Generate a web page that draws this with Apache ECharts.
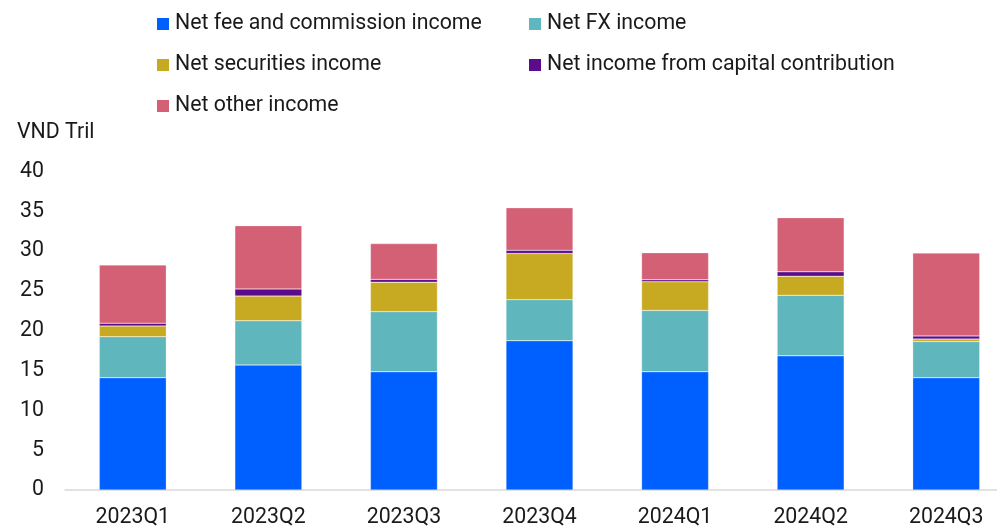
<!DOCTYPE html>
<html>
<head>
<meta charset="utf-8">
<script src="https://cdn.jsdelivr.net/npm/echarts@6/dist/echarts.min.js"></script>
<style>
  html, body { margin: 0; padding: 0; background: #fff; }
  #chart { width: 997px; height: 527px; }
</style>
</head>
<body>
<div id="chart"></div>
<script>
// Quarterly non-interest income breakdown, VND trillion
const quarters = ['2023Q1', '2023Q2', '2023Q3', '2023Q4', '2024Q1', '2024Q2', '2024Q3'];
const feeIncome = [14.1, 15.7, 14.85, 18.75, 14.85, 16.85, 14.1];
const fxIncome = [5.15, 5.55, 7.55, 5.15, 7.7, 7.6, 4.55];
const securitiesIncome = [1.35, 3.1, 3.7, 5.8, 3.6, 2.4, 0.3];
const capitalContribIncome = [0.35, 0.9, 0.35, 0.4, 0.25, 0.55, 0.4];
const otherIncome = [7.3, 7.95, 4.5, 5.35, 3.4, 6.8, 10.4];
const yTicks = [0, 5, 10, 15, 20, 25, 30, 35, 40];

const seriesDefs = [
  { name: 'Net fee and commission income', data: feeIncome, color: '#0060FF', lx: 157, ly: 13 },
  { name: 'Net FX income', data: fxIncome, color: '#5FB6BC', lx: 529, ly: 13 },
  { name: 'Net securities income', data: securitiesIncome, color: '#C8AA22', lx: 157, ly: 54 },
  { name: 'Net income from capital contribution', data: capitalContribIncome, color: '#5C0B8C', lx: 529, ly: 54 },
  { name: 'Net other income', data: otherIncome, color: '#D46075', lx: 157, ly: 95 }
];

const font = 'Roboto, "Noto Sans", sans-serif';
const fontSize = 21.3;
const textColor = '#1a1a1a';

const chart = echarts.init(document.getElementById('chart'), null, { renderer: 'canvas' });

chart.setOption({
  animation: false,
  backgroundColor: '#ffffff',
  title: {
    text: 'VND Tril',
    left: 17,
    top: 120,
    padding: 0,
    textStyle: { fontFamily: font, fontSize: fontSize, fontWeight: 'normal', color: textColor, lineHeight: 26 }
  },
  legend: seriesDefs.map(s => ({
    data: [s.name],
    left: s.lx,
    top: s.ly,
    icon: 'rect',
    itemWidth: 12,
    itemHeight: 12,
    padding: 0,
    itemStyle: { borderWidth: 0 },
    textStyle: { fontFamily: font, fontSize: fontSize, color: textColor, lineHeight: 22, padding: [0, 0, 0, 1] }
  })),
  grid: {
    left: 65,
    top: 171.5,
    width: 949,
    bottom: 37,
    containLabel: false,
    outerBoundsMode: 'none'
  },
  xAxis: {
    type: 'category',
    data: quarters,
    axisLine: { show: true, lineStyle: { color: '#d9d9d9', width: 1.5 } },
    axisTick: { show: false },
    axisLabel: { fontFamily: font, fontSize: fontSize, color: textColor, margin: 17 }
  },
  yAxis: {
    type: 'value',
    min: yTicks[0],
    max: yTicks[yTicks.length - 1],
    interval: 5,
    axisLine: { show: false },
    axisTick: { show: false },
    splitLine: { show: false },
    axisLabel: { fontFamily: font, fontSize: fontSize, color: textColor, margin: 21, padding: [4, 0, 0, 0] }
  },
  series: seriesDefs.map(s => ({
    name: s.name,
    type: 'bar',
    stack: 'total',
    data: s.data,
    barWidth: 67,
    itemStyle: { color: s.color, borderColor: 'rgba(255,255,255,0.5)', borderWidth: 0.5 }
  }))
});
</script>
</body>
</html>
